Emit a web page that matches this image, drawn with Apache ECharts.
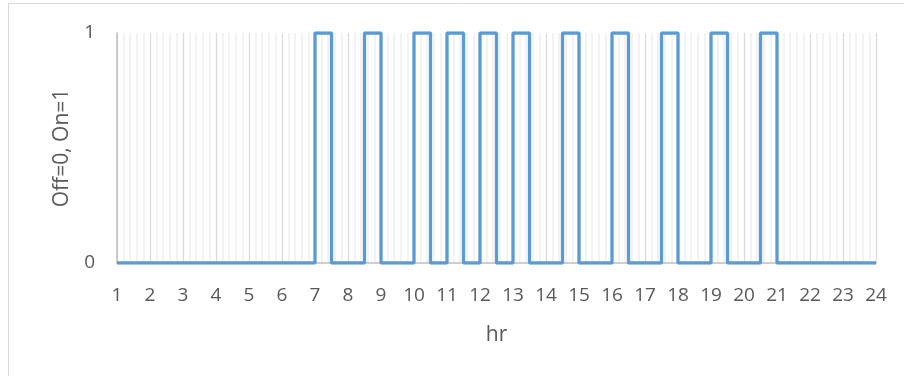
<!DOCTYPE html>
<html>
<head>
<meta charset="utf-8">
<script src="https://cdn.jsdelivr.net/npm/echarts@6/dist/echarts.min.js"></script>
<style>html,body{margin:0;padding:0;background:#fff;}#c{width:904px;height:376px;}</style>
</head>
<body>
<div id="c"></div>
<script>
// Hours when the device switches on and off (hr)
const onTimes  = [7, 8.5, 10, 11, 12, 13, 14.5, 16, 17.5, 19, 20.5];
const offTimes = [7.5, 9, 10.5, 11.5, 12.5, 13.5, 15, 16.5, 18, 19.5, 21];
const startHour = 1;
const endHour = 24;
const yTicks = [0, 1];

const data = [[startHour, 0]];
for (let i = 0; i < onTimes.length; i++) {
  data.push([onTimes[i], 1]);
  data.push([offTimes[i], 0]);
}
data.push([endHour, 0]);

const chart = echarts.init(document.getElementById('c'));
const txt = '#595959';
const ff = 'Open Sans';
chart.setOption({
  animation: false,
  graphic: [{
    type: 'rect', silent: true,
    shape: { x: 8.5, y: 3.5, width: 1000, height: 1000 },
    style: { fill: 'none', stroke: '#D9D9D9', lineWidth: 1 }
  }],
  grid: { left: 117, right: 28, top: 33, bottom: 113, containLabel: false },
  xAxis: {
    type: 'value', min: startHour, max: endHour, interval: 1,
    name: 'hr', nameLocation: 'middle', nameGap: 62,
    nameTextStyle: { color: txt, fontSize: 21, fontFamily: ff },
    axisLine: { show: true, onZero: false, lineStyle: { color: '#BFBFBF', width: 1.5 } },
    axisTick: { show: false },
    axisLabel: { color: txt, fontSize: 19, fontFamily: ff, margin: 23 },
    splitLine: { show: true, lineStyle: { color: '#D9D9D9', width: 1.2 } },
    minorTick: { show: false, splitNumber: 5 },
    minorSplitLine: { show: true, lineStyle: { color: '#F0F0F0', width: 1.5 } }
  },
  yAxis: {
    type: 'value', min: yTicks[0], max: yTicks[1], interval: 1,
    name: 'Off=0, On=1', nameLocation: 'middle', nameGap: 44, nameRotate: 90,
    nameTextStyle: { color: txt, fontSize: 21, fontFamily: ff },
    axisLine: { show: true, lineStyle: { color: '#BFBFBF', width: 1.5 } },
    axisTick: { show: false },
    axisLabel: { color: txt, fontSize: 19, fontFamily: ff, margin: 22 },
    splitLine: { show: false }
  },
  series: [{
    type: 'line', step: 'end', data: data, symbol: 'none',
    lineStyle: { color: '#5B9BD5', width: 3.3 }
  }]
});
</script>
</body>
</html>
